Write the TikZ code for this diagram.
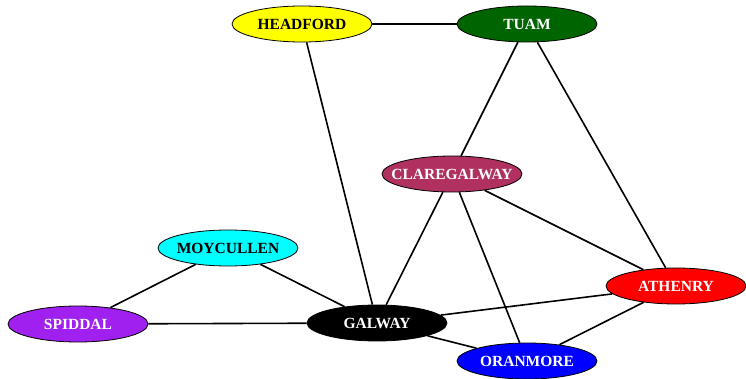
\documentclass[tikz,border=0pt]{standalone}
\usepackage{fontspec}
\setmainfont{Liberation Serif}
\usetikzlibrary{shapes.geometric}
\definecolor{gvdarkgreen}{RGB}{0,100,0}
\definecolor{gvmaroon}{RGB}{176,48,96}
\definecolor{gvpurple}{RGB}{160,32,240}
\definecolor{gvcyan}{RGB}{0,255,255}
\definecolor{gvyellow}{RGB}{255,255,0}
\definecolor{gvred}{RGB}{255,0,0}
\definecolor{gvblue}{RGB}{0,0,255}
\newcommand{\townlabel}[1]{\makebox[0pt]{#1}}
\begin{document}
\begin{tikzpicture}[x=1pt,y=-1pt,
  town/.style={ellipse,draw=black,line width=0.8pt,minimum width=140pt,minimum height=36pt,inner sep=0pt,
    font=\fontsize{15.5}{17}\selectfont\bfseries},
  link/.style={line width=1.6pt,black}]
\useasboundingbox (0,0) rectangle (746,379);
\node[town,fill=gvyellow,text=black] (headford) at (302,24) {\townlabel{HEADFORD}};
\node[town,fill=gvdarkgreen,text=white] (tuam) at (527,24) {\townlabel{TUAM}};
\node[town,fill=gvmaroon,text=white] (claregalway) at (452,174) {\townlabel{CLAREGALWAY}};
\node[town,fill=gvcyan,text=black] (moycullen) at (228,248) {\townlabel{MOYCULLEN}};
\node[town,fill=gvpurple,text=white] (spiddal) at (78,324) {\townlabel{SPIDDAL}};
\node[town,fill=black,text=white] (galway) at (377,323) {\townlabel{GALWAY}};
\node[town,fill=gvred,text=white] (athenry) at (676,286) {\townlabel{ATHENRY}};
\node[town,fill=gvblue,text=white] (oranmore) at (527,361) {\townlabel{ORANMORE}};
\draw[link] (headford) -- (tuam);
\draw[link] (headford) -- (galway);
\draw[link] (tuam) -- (claregalway);
\draw[link] (tuam) -- (athenry);
\draw[link] (claregalway) -- (galway);
\draw[link] (claregalway) -- (oranmore);
\draw[link] (claregalway) -- (athenry);
\draw[link] (moycullen) -- (spiddal);
\draw[link] (moycullen) -- (galway);
\draw[link] (spiddal) -- (galway);
\draw[link] (galway) -- (athenry);
\draw[link] (galway) -- (oranmore);
\draw[link] (athenry) -- (oranmore);
\end{tikzpicture}
\end{document}
